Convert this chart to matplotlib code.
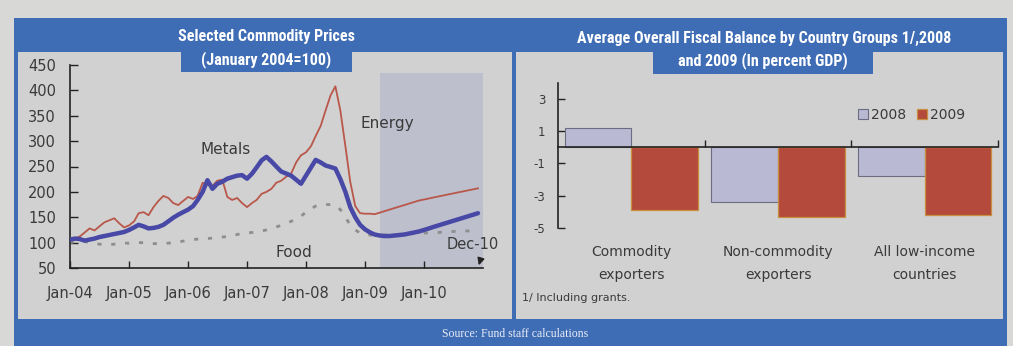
import matplotlib
matplotlib.use("Agg")
import matplotlib.pyplot as plt
import matplotlib.dates as mdates
from matplotlib.patches import Rectangle
from matplotlib import font_manager
import numpy as np
import pandas as pd

# ---------------- data ----------------
months = pd.date_range("2004-01-01", periods=84, freq="MS")

energy = [105, 108, 112, 120, 128, 124, 132, 140, 144, 148, 138, 130,
          134, 142, 158, 160, 154, 170, 182, 192, 188, 178, 174, 182,
          190, 186, 192, 218, 214, 212, 222, 224, 190, 184, 188, 178,
          170, 178, 184, 196, 200, 206, 218, 222, 230, 236, 258, 272,
          278, 290, 310, 330, 360, 390, 408, 360, 290, 220, 172, 158,
          157, 157, 156, 159, 162, 165, 168, 171, 174, 177, 180, 183,
          185, 187, 189, 191, 193, 195, 197, 199, 201, 203, 205, 207]

metals = [106, 108, 107, 104, 106, 108, 111, 113, 115, 117, 119, 121,
          125, 130, 135, 132, 128, 129, 131, 135, 142, 149, 155, 160,
          165, 172, 184, 200, 223, 206, 216, 220, 226, 229, 232, 233,
          226, 236, 248, 262, 269, 260, 250, 240, 236, 232, 224, 216,
          232, 248, 263, 258, 252, 249, 246, 225, 200, 170, 150, 135,
          126, 120, 116, 114, 113, 113, 114, 115, 116, 118, 120, 122,
          125, 128, 131, 134, 137, 140, 143, 146, 149, 152, 155, 158]

food = [100, 102, 103, 102, 100, 98, 97, 96, 96, 97, 98, 99,
        99, 100, 100, 100, 99, 98, 98, 98, 99, 100, 101, 103,
        105, 106, 107, 107, 108, 109, 110, 111, 112, 114, 116, 118,
        119, 120, 121, 123, 125, 128, 131, 134, 138, 142, 146, 152,
        160, 167, 172, 174, 175, 175, 174, 165, 150, 135, 125, 119,
        116, 115, 114, 114, 115, 115, 116, 116, 117, 117, 118, 118,
        119, 119, 120, 120, 121, 121, 122, 122, 123, 123, 124, 125]

year_ticks = pd.date_range("2004-01-01", periods=7, freq="YS")
left_yticks = [50, 100, 150, 200, 250, 300, 350, 400, 450]

groups = ["Commodity\nexporters", "Non-commodity\nexporters", "All low-income\ncountries"]
bal_2008 = [1.2, -3.4, -1.8]
bal_2009 = [-3.9, -4.3, -4.2]
right_yticks = [3, 1, -1, -3, -5]

# ---------------- style ----------------
W, H = 1013, 346
BG_OUT = "#d8d8d6"
BG_IN = "#d1d1d1"
BLUE = "#3f6db5"
TXT = "#3a3a3a"
SHADE = "#bdbfcc"

names = {f.name for f in font_manager.fontManager.ttflist}
title_font = next((n for n in ["DejaVu Sans Condensed", "Liberation Sans Narrow",
                               "Roboto Condensed"] if n in names), "DejaVu Sans")
serif_font = next((n for n in ["Liberation Serif", "DejaVu Serif"] if n in names), "serif")
plt.rcParams["font.family"] = ["DejaVu Sans"]
plt.rcParams["axes.unicode_minus"] = False

fig = plt.figure(figsize=(W / 100, H / 100), dpi=100, facecolor=BG_OUT)


def fx(x):
    return x / W


def fy(y):
    return 1 - y / H


def prect(x0, y0, x1, y1, color, z=0):
    fig.add_artist(Rectangle((fx(x0), fy(y1)), fx(x1) - fx(x0), fy(y0) - fy(y1),
                             transform=fig.transFigure, facecolor=color,
                             edgecolor="none", zorder=z))


# frame & panels
prect(14, 18, 1007, 346, BLUE, z=0)
prect(18, 52, 512, 319, BG_IN, z=0.1)
prect(516, 52, 1003, 319, BG_IN, z=0.1)
prect(181, 50, 352, 72, BLUE, z=0.2)
prect(653, 50, 873, 74, BLUE, z=0.2)

fig.text(fx(266), fy(36), "Selected Commodity Prices", ha="center", va="center",
         color="white", fontsize=11.5, fontweight="bold", family=title_font, zorder=5)
fig.text(fx(266), fy(60), "(January 2004=100)", ha="center", va="center",
         color="white", fontsize=11.5, fontweight="bold", family=title_font, zorder=5)
fig.text(fx(764), fy(38), "Average Overall Fiscal Balance by Country Groups 1/,2008",
         ha="center", va="center", color="white", fontsize=11.5, fontweight="bold",
         family=title_font, zorder=5)
fig.text(fx(763), fy(61), "and 2009 (In percent GDP)", ha="center", va="center",
         color="white", fontsize=11.5, fontweight="bold", family=title_font, zorder=5)
fig.text(fx(515), fy(334), "Source: Fund staff calculations", ha="center", va="center",
         color="#e8ecf5", fontsize=8.5, family=serif_font, zorder=5)

# ---------------- left chart ----------------
axL = fig.add_axes([fx(70), fy(268), fx(483) - fx(70), fy(65) - fy(268)])
axL.set_zorder(3)
axL.set_facecolor("none")
axL.set_xlim(pd.Timestamp("2004-01-01"), pd.Timestamp("2011-01-01"))
axL.set_ylim(50, 450)
axL.axvspan(pd.Timestamp("2009-04-01"), pd.Timestamp("2011-01-05"), ymin=0, ymax=0.96,
            color=SHADE, zorder=0.5, lw=0)
axL.plot(months, food, color="#8e8e8e", lw=2.0, ls=(0, (1.5, 3.5)), zorder=2)
axL.plot(months, energy, color="#b9574a", lw=1.3, zorder=3)
axL.plot(months, metals, color="#4848a6", lw=3.2, zorder=4, solid_capstyle="round")

for s in ["top", "right"]:
    axL.spines[s].set_visible(False)
for s in ["left", "bottom"]:
    axL.spines[s].set_color("#222222")
    axL.spines[s].set_linewidth(1.2)
axL.set_yticks(left_yticks)
axL.set_xticks(year_ticks)
axL.xaxis.set_major_formatter(mdates.DateFormatter("%b-%y"))
axL.tick_params(axis="y", direction="in", length=6, width=1, pad=10,
                labelsize=10.5, labelcolor=TXT, color="#222222")
axL.tick_params(axis="x", direction="in", length=5, width=1, pad=13,
                labelsize=10.5, labelcolor=TXT, color="#222222")

axL.text(pd.Timestamp("2006-08-20"), 284, "Metals", ha="center", va="center",
         fontsize=11, color=TXT)
axL.text(pd.Timestamp("2009-05-20"), 334, "Energy", ha="center", va="center",
         fontsize=11, color=TXT)
axL.text(pd.Timestamp("2007-10-20"), 80, "Food", ha="center", va="center",
         fontsize=11, color=TXT)
axL.text(pd.Timestamp("2010-11-01"), 97, "Dec-10", ha="center", va="center",
         fontsize=10.5, color=TXT, clip_on=False, zorder=6)
axL.annotate("", xy=(pd.Timestamp("2010-12-01"), 50),
             xytext=(pd.Timestamp("2010-12-20"), 70),
             arrowprops=dict(arrowstyle="-|>", color="#222222", lw=1.2,
                             mutation_scale=10), annotation_clip=False, zorder=6)

# ---------------- right chart ----------------
axR = fig.add_axes([fx(558), fy(228), fx(998) - fx(558), fy(82.5) - fy(228)])
axR.set_zorder(3)
axR.set_facecolor("none")
x = np.arange(len(groups))
bw = 0.455
b1 = axR.bar(x - bw / 2, bal_2008, width=bw, color="#b9b9d3", edgecolor="#6c6c82",
             lw=0.8, label="2008", zorder=2)
b2 = axR.bar(x + bw / 2, bal_2009, width=bw, color="#b44a3b", edgecolor="#c8903e",
             lw=0.9, label="2009", zorder=2)
axR.set_xlim(-0.5, 2.5)
axR.set_ylim(-5, 4)
axR.spines["top"].set_visible(False)
axR.spines["right"].set_visible(False)
axR.spines["bottom"].set_position(("data", 0))
for s in ["left", "bottom"]:
    axR.spines[s].set_color("#222222")
    axR.spines[s].set_linewidth(1.2)
    axR.spines[s].set_zorder(3)
axR.set_yticks(right_yticks)
axR.set_xticks([0.5, 1.5, 2.5])
axR.set_xticklabels([])
axR.tick_params(axis="y", direction="in", length=5, width=1, pad=9,
                labelsize=8.5, labelcolor=TXT, color="#222222")
axR.tick_params(axis="x", direction="in", length=5, width=1, color="#222222")

for xi, g in zip(x, groups):
    axR.text(xi, -7.2, g, ha="center", va="center", fontsize=10, color=TXT,
             linespacing=1.75, clip_on=False)

axR.legend(handles=[b1, b2], loc="center right", bbox_to_anchor=(0.94, 0.777),
           ncol=2, frameon=False, fontsize=10, handlelength=0.7, handleheight=0.7,
           handletextpad=0.2, columnspacing=0.8, labelcolor=TXT, borderpad=0)

fig.text(fx(522), fy(298), "1/ Including grants.", ha="left", va="center",
         fontsize=8, color=TXT, zorder=5)

fig.savefig("out.png", dpi=100, facecolor=BG_OUT)
